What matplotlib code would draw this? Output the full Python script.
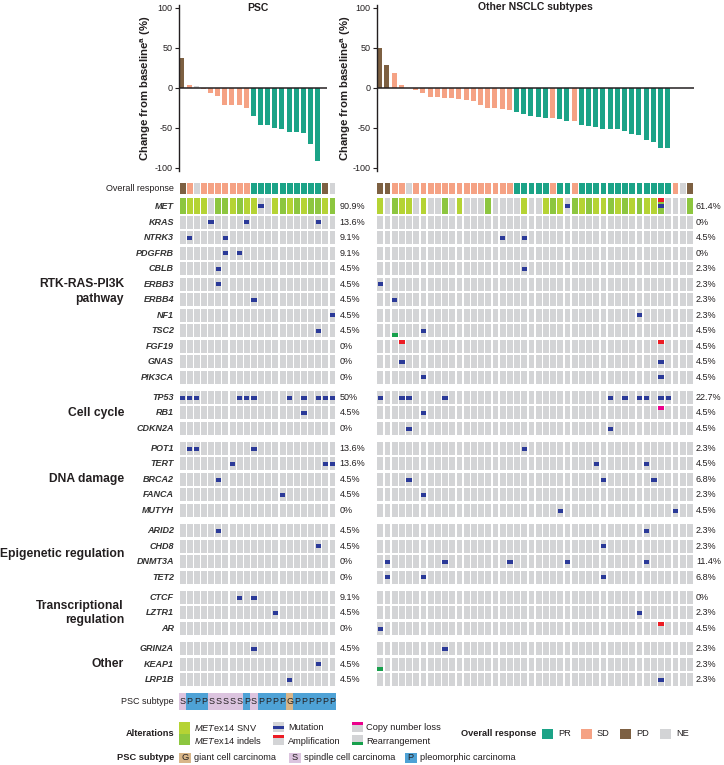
import numpy as np
import matplotlib
matplotlib.use('Agg')
import matplotlib.pyplot as plt
from matplotlib.patches import Rectangle

plt.rcParams['font.family'] = ['Liberation Sans', 'DejaVu Sans']
plt.rcParams['mathtext.fontset'] = 'custom'
plt.rcParams['mathtext.rm'] = 'Liberation Sans'
plt.rcParams['mathtext.it'] = 'Liberation Sans:italic'
plt.rcParams['mathtext.bf'] = 'Liberation Sans:bold'
plt.rcParams['axes.unicode_minus'] = False

nan = np.nan

# ---------------- data ----------------
group_names = ['RTK-RAS-PI3K\npathway', 'Cell cycle', 'DNA damage',
               'Epigenetic regulation', 'Transcriptional\nregulation', 'Other']
group_genes = [
    ['MET', 'KRAS', 'NTRK3', 'PDGFRB', 'CBLB', 'ERBB3', 'ERBB4', 'NF1',
     'TSC2', 'FGF19', 'GNAS', 'PIK3CA'],
    ['TP53', 'RB1', 'CDKN2A'],
    ['POT1', 'TERT', 'BRCA2', 'FANCA', 'MUTYH'],
    ['ARID2', 'CHD8', 'DNMT3A', 'TET2'],
    ['CTCF', 'LZTR1', 'AR'],
    ['GRIN2A', 'KEAP1', 'LRP1B'],
]

# PSC cohort (22 patients)
psc_response = ['PD', 'SD', 'NE', 'SD', 'SD', 'SD', 'SD', 'SD', 'SD', 'SD',
                'PR', 'PR', 'PR', 'PR', 'PR', 'PR', 'PR', 'PR', 'PR', 'PR',
                'PD', 'NE']
psc_change = [37, 3, 2, -2, -7, -10, -21, -21, -22, -25,
              -35, -47, -47, -50, -51, -55, -55, -57, -70, -92, nan, nan]
# S = METex14 SNV, I = METex14 indels
psc_met = ['I', 'S', 'S', 'S', '', 'I', 'I', 'S', 'I', 'S', 'S',
           '', '', 'S', 'I', 'S', 'I', 'S', 'I', 'I', 'S', 'I']
psc_mutation = {'MET': [11], 'KRAS': [4, 9, 19], 'NTRK3': [1, 6], 'PDGFRB': [6, 8],
                'CBLB': [5], 'ERBB3': [5], 'ERBB4': [10], 'NF1': [21], 'TSC2': [19],
                'TP53': [0, 1, 2, 8, 9, 10, 15, 17, 19, 20, 21], 'RB1': [17],
                'POT1': [1, 2, 10], 'TERT': [7, 20, 21], 'BRCA2': [5], 'FANCA': [14],
                'ARID2': [5], 'CHD8': [19], 'CTCF': [8, 10], 'LZTR1': [13],
                'GRIN2A': [10], 'KEAP1': [19], 'LRP1B': [15]}
psc_amplification = {}
psc_cn_loss = {}
psc_rearrangement = {}
psc_subtype = ['S', 'P', 'P', 'P', 'S', 'S', 'S', 'S', 'S', 'P', 'S',
               'P', 'P', 'P', 'P', 'G', 'P', 'P', 'P', 'P', 'P', 'P']

# Other NSCLC subtypes (44 patients)
other_response = ['PD', 'PD', 'SD', 'SD', 'NE', 'SD', 'SD', 'SD', 'SD', 'SD',
                  'SD', 'SD', 'SD', 'SD', 'SD', 'SD', 'SD', 'SD', 'SD', 'PR',
                  'PR', 'PR', 'PR', 'PR', 'SD', 'PR', 'PR', 'SD', 'PR', 'PR',
                  'PR', 'PR', 'PR', 'PR', 'PR', 'PR', 'PR', 'PR', 'PR', 'PR',
                  'PR', 'SD', 'NE', 'PD']
other_change = [50, 28, 18, 3, nan, -3, -7, -11, -11, -13, -13, -14, -15, -16,
                -22, -25, -25, -26, -28, -30, -33, -35, -37, -38, -38, -39, -41,
                -42, -46, -48, -49, -52, -52, -52, -54, -58, -59, -65, -68, -75,
                -75, nan, nan, nan]
other_met = ['S', '', 'I', 'S', 'S', '', 'S', '', '', 'I', '', 'S', '', '', '',
             'I', '', '', '', '', 'S', '', '', 'S', 'I', 'S', '', 'I', 'S', 'I',
             'S', 'S', 'I', 'S', 'I', 'S', 'I', 'S', 'S', 'I', '', '', '', 'I']
other_mutation = {'MET': [26, 39], 'NTRK3': [17, 20], 'CBLB': [20], 'ERBB3': [0],
                  'ERBB4': [2], 'NF1': [36], 'TSC2': [6], 'GNAS': [3, 39],
                  'PIK3CA': [6, 39], 'TP53': [0, 3, 4, 9, 32, 34, 36, 37, 39, 40],
                  'RB1': [6], 'CDKN2A': [4, 32], 'POT1': [20], 'TERT': [30, 37],
                  'BRCA2': [4, 31, 38], 'FANCA': [6], 'MUTYH': [25, 41],
                  'ARID2': [37], 'CHD8': [31], 'DNMT3A': [1, 9, 18, 26, 37],
                  'TET2': [1, 6, 31], 'LZTR1': [36], 'AR': [0], 'GRIN2A': [9],
                  'LRP1B': [39]}
other_amplification = {'MET': [39], 'FGF19': [3, 39], 'AR': [39]}
other_cn_loss = {'RB1': [39]}
other_rearrangement = {'TSC2': [2], 'KEAP1': [0]}

# ---------------- style ----------------
resp_colors = {'PR': '#1ba387', 'SD': '#f5a284', 'PD': '#7d6042', 'NE': '#d3d4d6'}
met_colors = {'S': '#b5d334', 'I': '#8dc63f'}
sub_colors = {'G': '#d9b689', 'S': '#dcc4df', 'P': '#4ea2d6'}
grey = '#d3d4d6'
c_mut, c_amp, c_loss, c_rearr = '#2b3a98', '#ec1c24', '#ec008c', '#17a04c'
txt = '#231f20'

W, H = 724, 765
fig = plt.figure(figsize=(W / 100, H / 100), dpi=100)


def px_axes(x0, y0, x1, y1):
    ax = fig.add_axes([x0 / W, 1 - y1 / H, (x1 - x0) / W, (y1 - y0) / H])
    ax.patch.set_visible(False)
    return ax


ax0 = px_axes(0, 0, W, H)
ax0.set_xlim(0, W)
ax0.set_ylim(H, 0)
ax0.axis('off')
ax0.set_zorder(5)

# row layout (pixel centres)
resp_y, resp_h = 188.5, 11
met_y, met_h = 206, 16
cell_h, pitch, gap = 13, 15.5, 4.7
row_y = {}
y = met_y
for gi, genes in enumerate(group_genes):
    for gene in genes:
        if gene == 'MET':
            row_y[gene] = met_y
            y = 222
            continue
        row_y[gene] = y
        y += pitch
    y += gap
sub_y, sub_h = 701.5, 17

# ---------------- waterfall plots ----------------
def waterfall(x0, x1, change, response, zero_end):
    ax = px_axes(x0, 4.5, x1, 171)
    n = len(change)
    cols = np.arange(n)
    ax.bar(cols + 0.42, change, width=0.7,
           color=[resp_colors[r] for r in response], linewidth=0)
    ax.hlines(0, 0, zero_end, color=txt, lw=1.1, zorder=3)
    ax.set_xlim(0, n)
    ax.set_ylim(-104, 104)
    for s in ['top', 'right', 'bottom']:
        ax.spines[s].set_visible(False)
    ax.spines['left'].set_color(txt)
    ax.spines['left'].set_linewidth(1)
    ax.set_xticks([])
    ax.set_yticks([-100, -50, 0, 50, 100])
    ax.tick_params(axis='y', length=3, width=0.8, pad=1.5, labelsize=6.5,
                   colors=txt)
    return ax


waterfall(179, 336.1, psc_change, psc_response, 20.7)
waterfall(376.7, 693.5, other_change, other_response, 44)

ylab = r'Change from baseline$^{\mathbf{a}}$ (%)'
ax0.text(146, 88, ylab, rotation=90, ha='center', va='center',
         fontsize=8.2, fontweight='bold', color=txt)
ax0.text(346, 88, ylab, rotation=90, ha='center', va='center',
         fontsize=8.2, fontweight='bold', color=txt)
ax0.text(258, 7.5, 'PSC', ha='center', va='center', fontsize=7.5,
         fontweight='bold', color=txt)
ax0.text(535, 7, 'Other NSCLC subtypes', ha='center', va='center',
         fontsize=7.5, fontweight='bold', color=txt)


# ---------------- oncoprints ----------------
def fmt_pct(k, n):
    v = round(100 * k / n, 1)
    if v == int(v):
        return '%d%%' % int(v)
    return '%.1f%%' % v


def oncoprint(x0, x1, response, met, mutation, amp, loss, rearr, pct_x,
              subtype=None):
    n = len(response)
    ax = px_axes(x0, 180, x1, 716)
    ax.set_xlim(0, n)
    ax.set_ylim(716, 180)
    ax.axis('off')
    cols = np.arange(n) + 0.5
    cw = 0.83
    ax.bar(cols, resp_h, bottom=resp_y - resp_h / 2, width=cw,
           color=[resp_colors[r] for r in response], linewidth=0)
    for genes in group_genes:
        for gene in genes:
            yc = row_y[gene]
            h = met_h if gene == 'MET' else cell_h
            if gene == 'MET':
                colors = [met_colors.get(m, grey) for m in met]
            else:
                colors = [grey] * n
            ax.bar(cols, h, bottom=yc - h / 2, width=cw, color=colors,
                   linewidth=0)
            hit = set()
            if gene == 'MET':
                hit |= {i for i, m in enumerate(met) if m}
            if gene in mutation:
                c = np.array(mutation[gene])
                ax.bar(c + 0.5, 4, bottom=yc - 1.7, width=0.74, color=c_mut,
                       linewidth=0)
                hit |= set(mutation[gene])
            if gene in amp:
                c = np.array(amp[gene])
                ax.bar(c + 0.5, 4, bottom=yc - h / 2, width=cw, color=c_amp,
                       linewidth=0)
                hit |= set(amp[gene])
            if gene in loss:
                c = np.array(loss[gene])
                ax.bar(c + 0.5, 4, bottom=yc - h / 2, width=cw, color=c_loss,
                       linewidth=0)
                hit |= set(loss[gene])
            if gene in rearr:
                c = np.array(rearr[gene])
                ax.bar(c + 0.5, 4, bottom=yc + h / 2 - 4, width=cw,
                       color=c_rearr, linewidth=0)
                hit |= set(rearr[gene])
            ax0.text(pct_x, yc, fmt_pct(len(hit), n), ha='left', va='center',
                     fontsize=6.5, color=txt)
    if subtype is not None:
        ax.bar(cols, sub_h, bottom=sub_y - sub_h / 2, width=1.0,
               color=[sub_colors[s] for s in subtype], linewidth=0)
        for c, s in zip(cols, subtype):
            ax.text(c, sub_y + 0.5, s, ha='center', va='center', fontsize=6.5,
                    color=txt)


oncoprint(179, 336.1, psc_response, psc_met, psc_mutation, psc_amplification,
          psc_cn_loss, psc_rearrangement, 339.5, subtype=psc_subtype)
oncoprint(376.7, 693.5, other_response, other_met, other_mutation,
          other_amplification, other_cn_loss, other_rearrangement, 696)

# row and group labels
ax0.text(174, resp_y, 'Overall response', ha='right', va='center',
         fontsize=6.5, color=txt)
for name, genes in zip(group_names, group_genes):
    for gene in genes:
        ax0.text(174, row_y[gene], gene, ha='right', va='center',
                 fontsize=6.5, fontstyle='italic', fontweight='bold', color='#333333')
    yc = (row_y[genes[0]] + row_y[genes[-1]]) / 2
    ax0.text(124, yc, name, ha='right', va='center', multialignment='right',
             fontsize=8.7, fontweight='bold', color=txt, linespacing=1.25)
ax0.text(174, sub_y, 'PSC subtype', ha='right', va='center', fontsize=6.5,
         color=txt)

# ---------------- legend ----------------
fs = 6.7
ax0.text(174, 733, 'Alterations', ha='right', va='center', fontsize=fs,
         fontweight='bold', color=txt)
ax0.add_patch(Rectangle((179, 722), 11, 11.5, color=met_colors['S'], lw=0))
ax0.add_patch(Rectangle((179, 733.5), 11, 11.5, color=met_colors['I'], lw=0))
ax0.text(194, 728, r'$\mathit{MET}$ex14 SNV', va='center', fontsize=fs, color=txt)
ax0.text(194, 740.5, r'$\mathit{MET}$ex14 indels', va='center', fontsize=fs, color=txt)

ax0.add_patch(Rectangle((273, 722), 11, 10, color=grey, lw=0))
ax0.add_patch(Rectangle((273, 725.5), 11, 3.5, color=c_mut, lw=0))
ax0.text(288, 728, 'Mutation', va='center', fontsize=fs, color=txt)
ax0.add_patch(Rectangle((273, 735), 11, 10, color=grey, lw=0))
ax0.add_patch(Rectangle((273, 735), 11, 3, color=c_amp, lw=0))
ax0.text(288, 741, 'Amplification', va='center', fontsize=fs, color=txt)

ax0.add_patch(Rectangle((352, 722), 11, 10, color=grey, lw=0))
ax0.add_patch(Rectangle((352, 722), 11, 3, color=c_loss, lw=0))
ax0.text(366, 728, 'Copy number loss', va='center', fontsize=fs, color=txt)
ax0.add_patch(Rectangle((352, 735), 11, 10, color=grey, lw=0))
ax0.add_patch(Rectangle((352, 742), 11, 3, color=c_rearr, lw=0))
ax0.text(366, 741, 'Rearrangement', va='center', fontsize=fs, color=txt)

ax0.text(536, 734, 'Overall response', ha='right', va='center', fontsize=fs,
         fontweight='bold', color=txt)
for xr, r in zip([542, 581, 620, 660], ['PR', 'SD', 'PD', 'NE']):
    ax0.add_patch(Rectangle((xr, 729), 11, 10, color=resp_colors[r], lw=0))
    ax0.text(xr + 16, 734, r, va='center', fontsize=fs, color=txt)

ax0.text(174, 757.7, 'PSC subtype', ha='right', va='center', fontsize=fs,
         fontweight='bold', color=txt)
for xs, s, lab in zip([179, 289, 405], ['G', 'S', 'P'],
                      ['giant cell carcinoma', 'spindle cell carcinoma',
                       'pleomorphic carcinoma']):
    ax0.add_patch(Rectangle((xs, 752.5), 11.5, 10.5, color=sub_colors[s], lw=0))
    ax0.text(xs + 5.75, 758, s, ha='center', va='center', fontsize=fs, color=txt)
    ax0.text(xs + 15, 757.7, lab, va='center', fontsize=fs, color=txt)

fig.savefig('out.png', dpi=100, facecolor='white')
